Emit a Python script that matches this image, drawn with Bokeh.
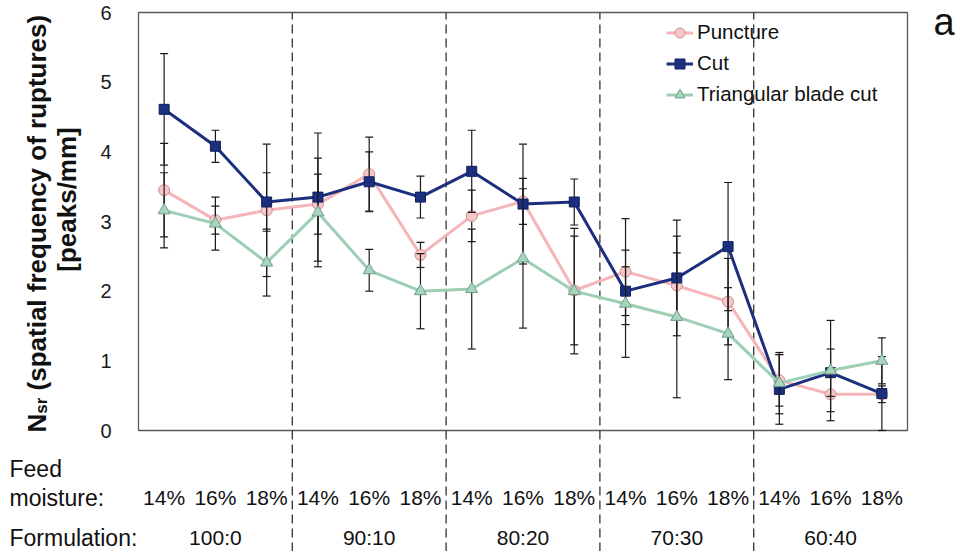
from math import pi

from bokeh.core.properties import value
from bokeh.embed import file_html
from bokeh.models import Label, Legend, LegendItem, Range1d
from bokeh.plotting import figure
from bokeh.resources import INLINE

# ---- data -------------------------------------------------------------
moisture_labels = ["14%", "16%", "18%"] * 5
formulations = ["100:0", "90:10", "80:20", "70:30", "60:40"]
formulation_pos = [1, 4, 7, 10, 13]          # centre sample of each group
group_breaks = [2.5, 5.5, 8.5, 11.5]
x_idx = list(range(15))

puncture = [3.45, 3.02, 3.16, 3.25, 3.68, 2.52, 3.08, 3.29, 2.01, 2.28, 2.08, 1.85, 0.72, 0.52, 0.52]
puncture_err = [0.67, 0.20, 0.95, 0.43, 0.53, 0.18, 0.37, 0.33, 0.78, 0.76, 0.47, 0.62, 0.37, 0.25, 0.12]
cut = [4.61, 4.08, 3.28, 3.35, 3.57, 3.35, 3.72, 3.25, 3.28, 2.00, 2.19, 2.64, 0.59, 0.83, 0.53]
cut_err = [0.80, 0.23, 0.42, 0.92, 0.43, 0.30, 0.59, 0.86, 0.33, 0.35, 0.83, 0.92, 0.50, 0.34, 0.53]
tri = [3.16, 2.97, 2.41, 3.13, 2.30, 2.00, 2.03, 2.47, 2.00, 1.82, 1.63, 1.39, 0.68, 0.86, 1.00]
tri_err = [0.54, 0.38, 0.48, 0.78, 0.30, 0.54, 0.86, 1.00, 0.90, 0.77, 1.16, 0.66, 0.44, 0.72, 0.33]

y_ticks = [0, 1, 2, 3, 4, 5, 6]
y_tick_labels = [str(t) for t in y_ticks]

# ---- layout: the drawing area covers the whole canvas ----------------------
FONT = "Liberation Sans"
INK = "#111111"
W, H = 967, 551
BOX_L, BOX_R, BOX_T, BOX_B = 138, 907, 12, 430     # plot box in pixels
PX_X = (BOX_R - BOX_L) / 15.0
PX_Y = (BOX_B - BOX_T) / (y_ticks[-1] - y_ticks[0])
X0 = -0.5 - BOX_L / PX_X
X1 = 14.5 + (W - BOX_R) / PX_X
Y1 = y_ticks[-1] + BOX_T / PX_Y
Y0 = -(H - BOX_B) / PX_Y


def dx(cx):
    """canvas x pixel -> data x"""
    return X0 + cx / PX_X


def dy(cy):
    """canvas y pixel -> data y"""
    return Y1 - cy / PX_Y


p = figure(width=W, height=H, output_backend="svg", toolbar_location=None,
           x_range=Range1d(X0, X1), y_range=Range1d(Y0, Y1),
           x_axis_location=None, y_axis_location=None,
           min_border_left=0, min_border_right=0, min_border_top=0, min_border_bottom=0)
p.outline_line_color = None
p.grid.visible = False
p.background_fill_color = "white"
p.border_fill_color = "white"

# plot box
p.quad(left=[-0.5], right=[14.5], bottom=[y_ticks[0]], top=[y_ticks[-1]],
       fill_color=None, line_color="#5a5a5a", line_width=1.3)

# y tick labels
p.text(x=[dx(111)] * len(y_ticks), y=y_ticks, text=y_tick_labels, text_align="right",
       text_baseline="middle", text_font=value(FONT), text_font_size="20px",
       text_color="#1a1a1a")

# dashed group separators running through the label rows
p.segment(x0=group_breaks, x1=group_breaks, y0=[Y0] * 4, y1=[y_ticks[-1]] * 4,
          line_color="#333333", line_width=1.3, line_dash="9 5")

series = [
    ("Puncture", puncture, puncture_err, "#f4b5b8", "circle", "#f7c7c9", "#c98f93", 11),
    ("Cut", cut, cut_err, "#1b2f7e", "square", "#1b2f7e", "#0f1f5c", 10),
    ("Triangular blade cut", tri, tri_err, "#9ccfb3", "triangle", "#a8d5bf", "#6f9c87", 12),
]

items = []
for name, vals, errs, lc, mk, fc, mlc, ms in series:
    upper = [v + e for v, e in zip(vals, errs)]
    lower = [max(v - e, 0) for v, e in zip(vals, errs)]
    lr = p.line(x_idx, vals, line_color=lc, line_width=3)
    p.segment(x0=x_idx, x1=x_idx, y0=lower, y1=upper, line_color="#1a1a1a", line_width=1.2)
    p.scatter(x_idx + x_idx, upper + lower, marker="dash", size=8,
              line_color="#1a1a1a", line_width=1.2)
    sr = p.scatter(x_idx, vals, marker=mk, size=ms, fill_color=fc,
                   line_color=mlc, line_width=1)
    items.append(LegendItem(label=name, renderers=[lr, sr]))

legend = Legend(items=items, location=(666, H - 109), margin=0, padding=0,
                spacing=1, glyph_width=27, glyph_height=25, label_height=30,
                label_standoff=4, background_fill_alpha=0, border_line_color=None,
                label_text_font=FONT, label_text_font_size="20.5px",
                label_text_color=INK)
p.add_layout(legend, "center")

# row labels under the plot
p.text(x=x_idx, y=[dy(497)] * 15, text=moisture_labels, text_align="center",
       text_baseline="middle", text_font=value(FONT), text_font_size="21px",
       text_color=INK)
p.text(x=formulation_pos, y=[dy(537)] * 5, text=formulations, text_align="center",
       text_baseline="middle", text_font=value(FONT), text_font_size="21px",
       text_color=INK)

for txt, cy in [("Feed", 468), ("moisture:", 497), ("Formulation:", 537)]:
    p.add_layout(Label(x=dx(9), y=dy(cy), text=txt, text_align="left",
                       text_baseline="middle", text_font=FONT,
                       text_font_size="23px", text_color=INK))

# y axis title: N_sr (spatial frequency of ruptures) / [peaks/mm]
T_SIZE = 26
bx = 36
start = 432
n_w = 0.722 * T_SIZE
gap = 0.278 * T_SIZE
p.add_layout(Label(x=dx(bx), y=dy(start), text="N", angle=pi / 2, text_align="left",
                   text_baseline="alphabetic", text_font=FONT, text_font_style="bold",
                   text_font_size=f"{T_SIZE}px", text_color=INK))
sub_size = 17
sub_w = (0.556 + 0.389) * sub_size
p.add_layout(Label(x=dx(bx + 5), y=dy(start - n_w), text="sr", angle=pi / 2,
                   text_align="left", text_baseline="alphabetic", text_font=FONT,
                   text_font_style="bold", text_font_size=f"{sub_size}px",
                   text_color=INK))
p.add_layout(Label(x=dx(bx), y=dy(start - n_w - sub_w - gap),
                   text="(spatial frequency of ruptures)",
                   angle=pi / 2, text_align="left", text_baseline="alphabetic",
                   text_font=FONT, text_font_style="bold", text_font_size=f"{T_SIZE}px",
                   text_color=INK))
p.add_layout(Label(x=dx(66), y=dy(199), text="[peaks/mm]", angle=pi / 2,
                   text_align="center", text_baseline="alphabetic", text_font=FONT,
                   text_font_style="bold", text_font_size=f"{T_SIZE}px",
                   text_color=INK))

# panel letter
p.add_layout(Label(x=dx(933), y=dy(21), text="a", text_align="left",
                   text_baseline="alphabetic", text_font=FONT,
                   text_font_size="38px", text_color=INK))

open("out.html", "w").write(file_html(p, INLINE))
